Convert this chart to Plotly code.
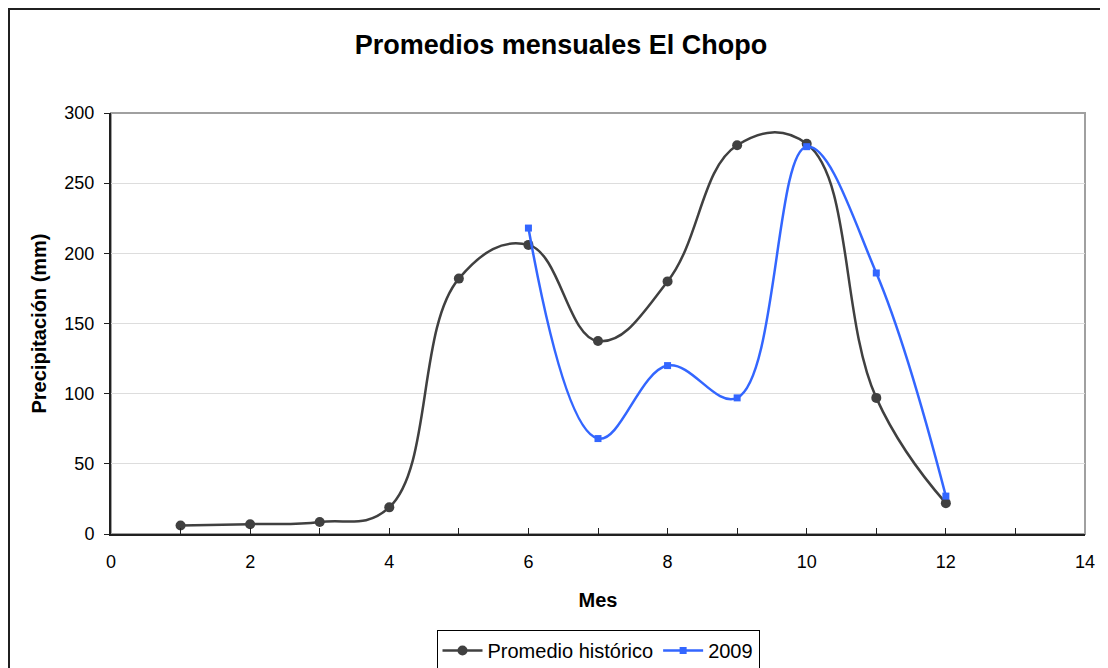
import plotly.graph_objects as go

meses = [1, 2, 3, 4, 5, 6, 7, 8, 9, 10, 11, 12]
promedio_historico = [6, 7, 8.5, 19, 182, 206, 137.5, 180, 277, 278, 97, 22]

meses_2009 = [6, 7, 8, 9, 10, 11, 12]
valores_2009 = [218, 68, 120, 97, 276, 186, 27]

fig = go.Figure()

fig.add_trace(go.Scatter(
    x=meses,
    y=promedio_historico,
    name='Promedio histórico',
    mode='lines+markers',
    line=dict(color='#404040', width=2.5, shape='spline', smoothing=1.2),
    marker=dict(symbol='circle', size=10, color='#404040')
))

fig.add_trace(go.Scatter(
    x=meses_2009,
    y=valores_2009,
    name='2009',
    mode='lines+markers',
    line=dict(color='#3366FF', width=2.5, shape='spline', smoothing=1.1),
    marker=dict(symbol='square', size=7, color='#3366FF')
))

# marco exterior del gráfico y borde gris del área de trazado
fig.add_shape(type='rect', xref='paper', yref='paper',
              x0=-102 / 974, y0=-0.5, x1=1.2, y1=525 / 421,
              line=dict(color='#202020', width=2), layer='below')
fig.add_shape(type='rect', xref='paper', yref='paper',
              x0=0, y0=0, x1=1, y1=1,
              line=dict(color='#A0A0A0', width=2), layer='below')

fig.update_layout(
    width=1100,
    height=660,
    margin=dict(l=103, r=23, t=105, b=134, autoexpand=False),
    paper_bgcolor='white',
    plot_bgcolor='white',
    font=dict(family='Liberation Sans, Arial, sans-serif', size=18, color='black'),
    title=dict(
        text='<b>Promedios mensuales El Chopo</b>',
        x=553 / 1100, xref='container', xanchor='center',
        y=1 - 37 / 660, yref='container', yanchor='middle',
        font=dict(size=27, color='black')
    ),
    xaxis=dict(
        range=[0, 14],
        dtick=2,
        tick0=0,
        ticks='inside',
        ticklen=6,
        tickcolor='#202020',
        minor=dict(dtick=1, ticks='inside', ticklen=6, tickcolor='#202020'),
        ticklabelstandoff=10,
        showgrid=False,
        zeroline=False,
        showline=True,
        linecolor='#202020',
        linewidth=2,
        title=dict(text='<b>Mes</b>', font=dict(size=20), standoff=22),
        tickfont=dict(size=18)
    ),
    yaxis=dict(
        range=[0, 300],
        dtick=50,
        ticks='outside',
        ticklen=5,
        tickcolor='#202020',
        ticklabelstandoff=6,
        showgrid=True,
        gridcolor='#DDDDDD',
        gridwidth=1,
        zeroline=False,
        showline=True,
        linecolor='#202020',
        linewidth=2,
        title=dict(text='<b>Precipitación (mm)</b>', font=dict(size=20), standoff=12),
        tickfont=dict(size=18)
    ),
    showlegend=True,
    legend=dict(
        orientation='h',
        x=0.5, xanchor='center',
        yref='container',
        y=(660 - 622) / 660, yanchor='top',
        bordercolor='black',
        borderwidth=1,
        itemwidth=40,
        font=dict(size=20),
        bgcolor='white'
    )
)

fig.write_html("out.html")
